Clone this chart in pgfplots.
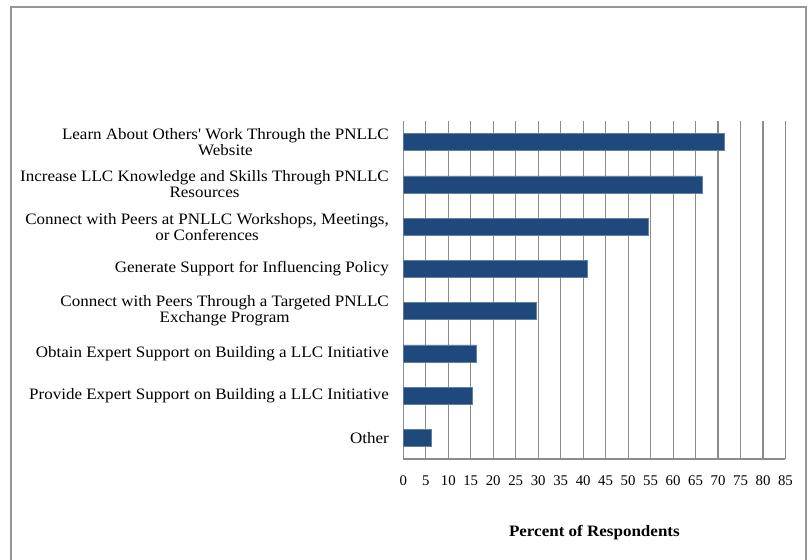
\documentclass[border=0pt]{standalone}
\usepackage{pgfplots}
\pgfplotsset{compat=1.18}
\usepackage{fontspec}
\setmainfont{Liberation Serif}
\newfontfamily\labfont[FakeStretch=1.07]{Liberation Serif}
\definecolor{barblue}{HTML}{1F497D}
\definecolor{gridgray}{RGB}{140,140,140}
\definecolor{framegray}{RGB}{150,150,150}
\begin{document}
\begin{tikzpicture}
\useasboundingbox (-403.3bp,-101bp) rectangle (408.7bp,459bp);
\draw[framegray, line width=1.5bp] (-392.3bp,-120bp) -- (-392.3bp,452bp) -- (402.7bp,452bp) -- (402.7bp,-120bp);
\begin{axis}[
  at={(0,0)}, anchor=south west,
  scale only axis,
  width=382.2bp, height=338bp,
  xbar, bar width=0.4,
  xmin=0, xmax=85,
  ymin=-0.5, ymax=7.5,
  y dir=reverse,
  xtick={0,5,...,85},
  ytick={0,...,7},
  yticklabels={
    {Learn About Others' Work Through the PNLLC\\Website},
    {Increase LLC Knowledge and Skills Through PNLLC\\Resources},
    {Connect with Peers at PNLLC Workshops, Meetings,\\or Conferences},
    {Generate Support for Influencing Policy},
    {Connect with Peers Through a Targeted PNLLC\\Exchange Program},
    {Obtain Expert Support on Building a LLC Initiative},
    {Provide Expert Support on Building a LLC Initiative},
    {Other}},
  yticklabel style={align=center, font={\labfont\fontsize{15.9bp}{16bp}\selectfont}, xshift=-11bp},
  xticklabel style={font={\fontsize{14.8bp}{15bp}\selectfont}, yshift=-13bp},
  /pgf/number format/assume math mode=true,
  major tick length=0pt,
  xmajorgrids,
  major grid style={gridgray, line width=1.1bp},
  axis x line*=bottom,
  axis y line*=left,
  axis line style={gridgray, line width=1.1bp, -},
  xlabel={\textbf{Percent of Respondents}},
  xlabel style={font={\labfont\fontsize{15.9bp}{16bp}\selectfont}, yshift=-33bp},
]
\addplot[fill=barblue, draw=barblue!70!white, line width=0.6bp] coordinates {
  (71.4,0) (66.5,1) (54.4,2) (41.0,3) (29.5,4) (16.2,5) (15.4,6) (6.2,7)
};
\end{axis}
\end{tikzpicture}
\end{document}
